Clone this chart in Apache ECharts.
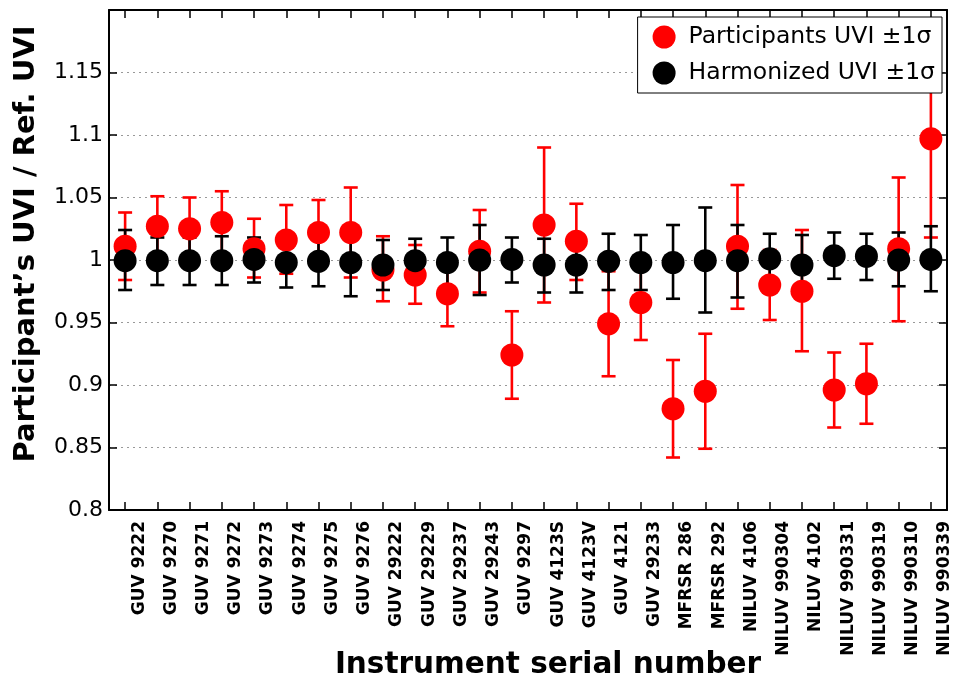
<!DOCTYPE html>
<html>
<head>
<meta charset="utf-8">
<script src="https://cdn.jsdelivr.net/npm/echarts@6/dist/echarts.min.js"></script>
<style>
  html, body { margin: 0; padding: 0; background: #fff; }
  #chart { width: 953px; height: 679px; }
</style>
</head>
<body>
<div id="chart"></div>
<script>
// Instrument serial numbers along the x axis
const categories = [
  'GUV 9222', 'GUV 9270', 'GUV 9271', 'GUV 9272', 'GUV 9273', 'GUV 9274',
  'GUV 9275', 'GUV 9276', 'GUV 29222', 'GUV 29229', 'GUV 29237', 'GUV 29243',
  'GUV 9297', 'GUV 4123S', 'GUV 4123V', 'GUV 4121', 'GUV 29233', 'MFRSR 286',
  'MFRSR 292', 'NILUV 4106', 'NILUV 990304', 'NILUV 4102', 'NILUV 990331',
  'NILUV 990319', 'NILUV 990310', 'NILUV 990339'
];

// Participants' UVI ratio with -1σ / +1σ bounds
const partMean = [1.011, 1.027, 1.025, 1.030, 1.009, 1.016, 1.022, 1.022, 0.992, 0.988, 0.973, 1.007, 0.924,
                  1.028, 1.015, 0.949, 0.966, 0.881, 0.895, 1.011, 0.980, 0.975, 0.896, 0.901, 1.009, 1.097];
const partLow  = [0.984, 1.002, 1.000, 1.005, 0.986, 0.989, 0.996, 0.986, 0.967, 0.965, 0.947, 0.974, 0.889,
                  0.966, 0.984, 0.907, 0.936, 0.842, 0.849, 0.961, 0.952, 0.927, 0.866, 0.869, 0.951, 1.018];
const partHigh = [1.038, 1.051, 1.050, 1.055, 1.033, 1.044, 1.048, 1.058, 1.019, 1.012, 0.999, 1.040, 0.959,
                  1.090, 1.045, 0.991, 0.996, 0.920, 0.941, 1.060, 1.008, 1.024, 0.926, 0.933, 1.066, 1.176];

// Harmonized UVI ratio with -1σ / +1σ bounds
const harmMean = [0.9995, 0.9995, 0.9995, 0.9995, 1.0005, 0.998, 0.999, 0.998, 0.996, 0.9995, 0.998, 1.000, 1.0005,
                  0.996, 0.996, 0.999, 0.998, 0.998, 0.9995, 0.9995, 1.001, 0.996, 1.0035, 1.003, 1.000, 1.0005];
const harmLow  = [0.976, 0.980, 0.980, 0.980, 0.982, 0.978, 0.979, 0.971, 0.976, 0.982, 0.978, 0.972, 0.982,
                  0.974, 0.974, 0.976, 0.976, 0.969, 0.958, 0.970, 0.981, 0.973, 0.985, 0.984, 0.979, 0.975];
const harmHigh = [1.024, 1.018, 1.018, 1.019, 1.018, 1.018, 1.018, 1.025, 1.016, 1.017, 1.018, 1.028, 1.018,
                  1.017, 1.017, 1.021, 1.020, 1.028, 1.042, 1.028, 1.021, 1.020, 1.022, 1.021, 1.022, 1.027];

const yTicks = { min: 0.8, max: 1.2, step: 0.05 };

const FONT = '"DejaVu Sans", sans-serif';

function errorBars(color) {
  return function (params, api) {
    const i = api.value(0);
    const lo = api.coord([i, api.value(1)]);
    const hi = api.coord([i, api.value(2)]);
    const hw = 7;
    const st = { stroke: color, lineWidth: 2.6 };
    return {
      type: 'group',
      children: [
        { type: 'line', shape: { x1: lo[0], y1: lo[1], x2: hi[0], y2: hi[1] }, style: st },
        { type: 'line', shape: { x1: lo[0] - hw, y1: lo[1], x2: lo[0] + hw, y2: lo[1] }, style: st },
        { type: 'line', shape: { x1: hi[0] - hw, y1: hi[1], x2: hi[0] + hw, y2: hi[1] }, style: st }
      ]
    };
  };
}

const partBars = categories.map((c, i) => [i, partLow[i], partHigh[i]]);
const harmBars = categories.map((c, i) => [i, harmLow[i], harmHigh[i]]);

const axisLine = { show: true, lineStyle: { color: '#000', width: 2 } };
const tickIn = { show: true, inside: true, length: 8, lineStyle: { color: '#000', width: 1.5 } };

const chart = echarts.init(document.getElementById('chart'), null, { renderer: 'canvas' });

chart.setOption({
  backgroundColor: '#fff',
  animation: false,
  grid: { left: 109, right: 6, top: 10, bottom: 169, containLabel: false, outerBoundsMode: 'none' },
  legend: {
    right: 11,
    top: 17,
    orient: 'vertical',
    data: ['Participants UVI ±1σ', 'Harmonized UVI ±1σ'],
    icon: 'circle',
    itemWidth: 23,
    itemHeight: 23,
    itemGap: 12,
    padding: [8, 7, 8, 15],
    backgroundColor: '#fff',
    borderColor: '#000',
    borderWidth: 1,
    borderRadius: 0,
    textStyle: { fontFamily: FONT, fontSize: 23.5, lineHeight: 24, color: '#000', padding: [0, 0, 0, 8] }
  },
  xAxis: [
    {
      type: 'category',
      data: categories,
      position: 'bottom',
      boundaryGap: true,
      axisLine: axisLine,
      axisTick: Object.assign({ alignWithLabel: true, interval: 0 }, tickIn),
      axisLabel: {
        interval: 0,
        rotate: 90,
        margin: 11,
        color: '#000',
        fontFamily: FONT,
        fontWeight: 'bold',
        fontSize: 17,
        verticalAlign: 'top',
        lineHeight: 28
      },
      splitLine: { show: false }
    },
    {
      type: 'category',
      data: categories,
      position: 'top',
      boundaryGap: true,
      axisLine: axisLine,
      axisTick: Object.assign({ alignWithLabel: true, interval: 0 }, tickIn),
      axisLabel: { show: false },
      splitLine: { show: false }
    }
  ],
  yAxis: [
    {
      type: 'value',
      position: 'left',
      min: yTicks.min,
      max: yTicks.max,
      interval: yTicks.step,
      axisLine: axisLine,
      axisTick: tickIn,
      axisLabel: {
        margin: 6,
        color: '#000',
        fontFamily: FONT,
        fontSize: 22,
        formatter: function (v) {
          if (Math.abs(v - yTicks.max) < 1e-9) return '';
          return String(parseFloat(v.toFixed(2)));
        }
      },
      splitLine: { show: true, lineStyle: { color: '#999', width: 1, type: [2, 4] } }
    },
    {
      type: 'value',
      position: 'right',
      min: yTicks.min,
      max: yTicks.max,
      interval: yTicks.step,
      axisLine: axisLine,
      axisTick: tickIn,
      axisLabel: { show: false },
      splitLine: { show: false }
    }
  ],
  series: [
    {
      name: 'Participants σ',
      type: 'custom',
      renderItem: errorBars('#ff0000'),
      data: partBars,
      encode: { x: 0, y: [1, 2] },
      clip: true,
      z: 2
    },
    {
      name: 'Participants UVI ±1σ',
      type: 'scatter',
      data: partMean,
      symbol: 'circle',
      symbolSize: 23,
      itemStyle: { color: '#ff0000', opacity: 1 },
      z: 2
    },
    {
      name: 'Harmonized σ',
      type: 'custom',
      renderItem: errorBars('#000000'),
      data: harmBars,
      encode: { x: 0, y: [1, 2] },
      clip: true,
      z: 2
    },
    {
      name: 'Harmonized UVI ±1σ',
      type: 'scatter',
      data: harmMean,
      symbol: 'circle',
      symbolSize: 23,
      itemStyle: { color: '#000000', opacity: 1 },
      z: 2
    }
  ],
  graphic: [
    {
      type: 'text',
      x: 26,
      y: 244,
      rotation: Math.PI / 2,
      style: {
        text: 'Participant’s UVI / Ref. UVI',
        font: 'bold 29px ' + FONT,
        fill: '#000',
        textAlign: 'center',
        textVerticalAlign: 'middle',
        align: 'center',
        verticalAlign: 'middle'
      }
    },
    {
      type: 'text',
      x: 548,
      y: 665,
      style: {
        text: 'Instrument serial number',
        font: 'bold 29.5px ' + FONT,
        fill: '#000',
        textAlign: 'center',
        textVerticalAlign: 'middle',
        align: 'center',
        verticalAlign: 'middle'
      }
    }
  ]
});
</script>
</body>
</html>
